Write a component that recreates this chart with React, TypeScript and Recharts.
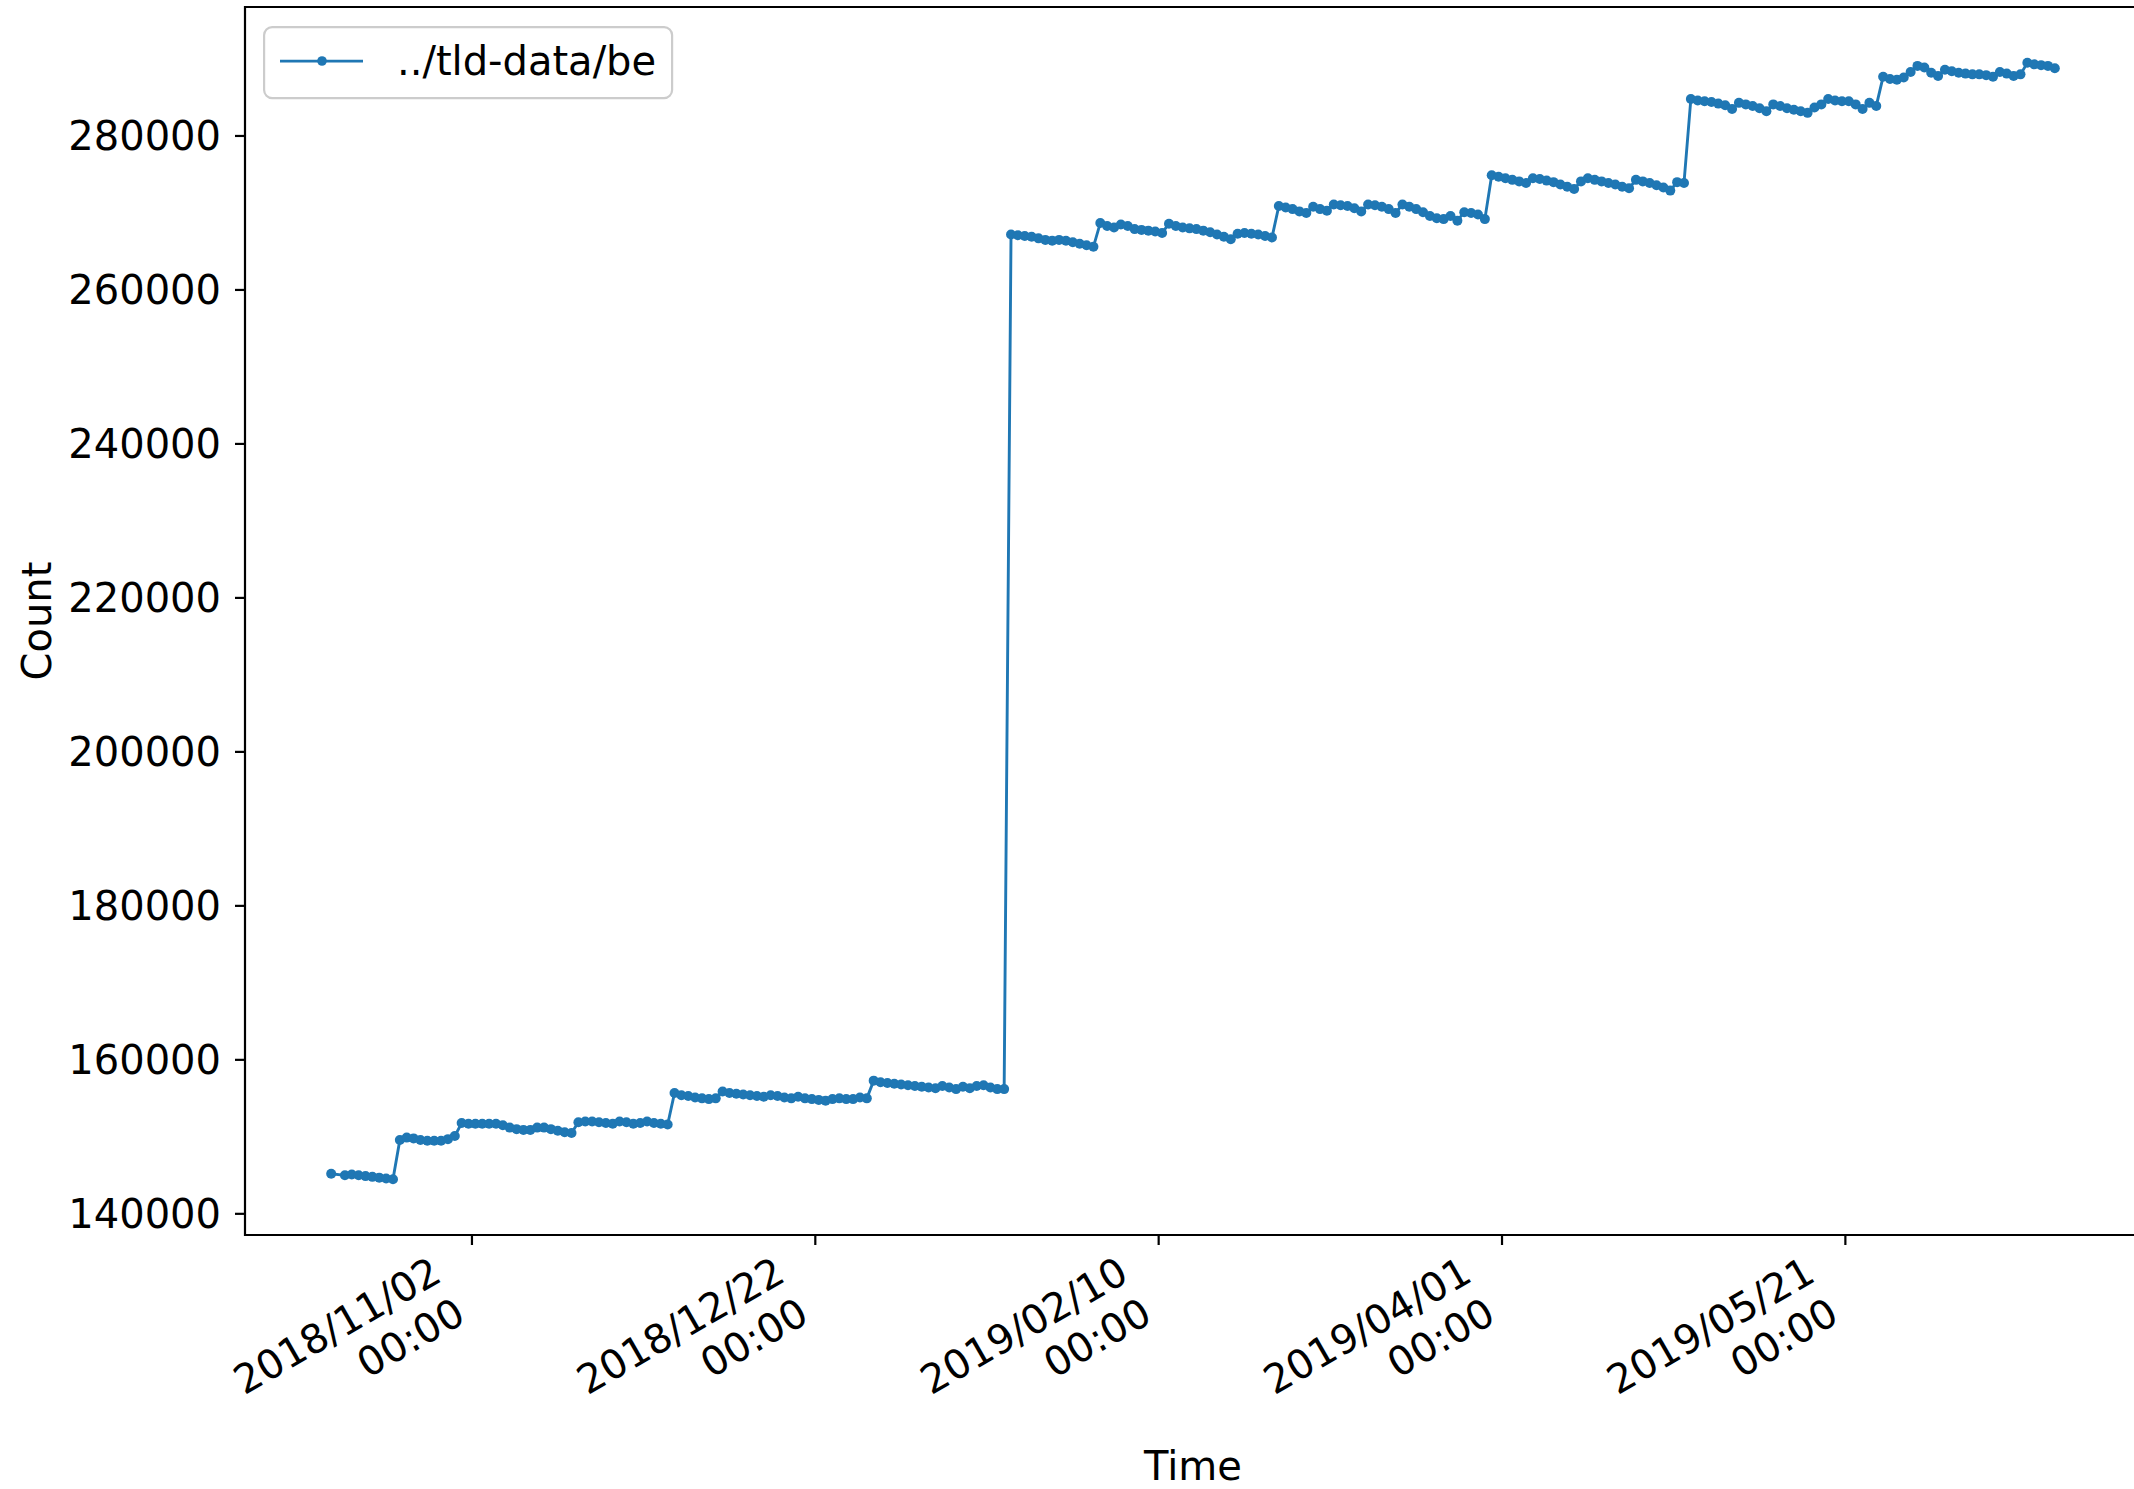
import { Legend, Line, LineChart, ReferenceArea, XAxis, YAxis } from 'recharts'

const BLUE = '#1f77b4'
const FONT = '"DejaVu Sans", sans-serif'
const FONT_SIZE = 40

const seriesName = '../tld-data/be'
// one sample per day, starting at this instant; null = no sample that day
const firstSample = '2018-10-12T12:00:00Z'

const counts: (number | null)[] = [
  // Oct 12 - Oct 21
  145200, null, 145000, 145100, 145000, 144900, 144800, 144700, 144600, 144500,
  // Oct 22 - Oct 30
  149600, 149900, 149800, 149600, 149500, 149500, 149500, 149700, 150100,
  // Oct 31 - Nov 16
  151800, 151700, 151700, 151700, 151700, 151700, 151500, 151200, 151000, 150900,
  150900, 151200, 151200, 151000, 150800, 150600, 150500,
  // Nov 17 - Nov 30
  151900, 152000, 152000, 151900, 151800, 151700, 152000, 151900, 151700, 151800,
  152000, 151800, 151700, 151600,
  // Dec 01 - Dec 07
  155700, 155400, 155300, 155100, 155000, 154900, 155000,
  // Dec 08 - Dec 29
  155900, 155700, 155600, 155500, 155400, 155300, 155200, 155400, 155300, 155100,
  155000, 155200, 155000, 154900, 154800, 154700, 154900, 155000, 154900, 154900,
  155100, 155000,
  // Dec 30 - Jan 18
  157300, 157100, 157000, 156900, 156800, 156700, 156600, 156500, 156400, 156300,
  156600, 156400, 156200, 156500, 156300, 156600, 156700, 156400, 156200, 156200,
  // Jan 19 - Jan 31
  267200, 267100, 267000, 266900, 266700, 266500, 266400, 266500, 266400, 266200,
  266000, 265800, 265600,
  // Feb 01 - Feb 10
  268700, 268300, 268100, 268500, 268300, 267900, 267800, 267700, 267600, 267400,
  // Feb 11 - Feb 20
  268600, 268300, 268100, 268000, 267900, 267700, 267500, 267200, 266900, 266600,
  // Feb 21 - Feb 26
  267300, 267400, 267300, 267200, 267000, 266800,
  // Feb 27 - Mar 29
  270900, 270700, 270500, 270200, 270000, 270800, 270500, 270300, 271100, 271000,
  270900, 270600, 270200, 271100, 271000, 270800, 270500, 270000, 271100, 270800,
  270500, 270100, 269600, 269300, 269200, 269600, 269000, 270100, 270000, 269800,
  269200,
  // Mar 30 - Apr 27
  274900, 274700, 274500, 274300, 274100, 273900, 274500, 274400, 274200, 274000,
  273700, 273400, 273100, 274100, 274500, 274300, 274100, 273900, 273700, 273400,
  273200, 274300, 274100, 273900, 273600, 273300, 272900, 274000, 273900,
  // Apr 28 - May 25
  284800, 284600, 284500, 284400, 284200, 284000, 283500, 284300, 284100, 283900,
  283600, 283200, 284100, 283900, 283600, 283400, 283200, 283000, 283700, 284100,
  284800, 284600, 284500, 284500, 284100, 283500, 284300, 283900,
  // May 26 - Jun 20
  287700, 287400, 287300, 287600, 288300, 289100, 288900, 288200, 287800, 288600,
  288400, 288200, 288100, 288000, 288000, 287900, 287700, 288300, 288100, 287800,
  288000, 289500, 289300, 289200, 289100, 288800,
]

const tickDates = ['2018/11/02', '2018/12/22', '2019/02/10', '2019/04/01', '2019/05/21']
const tickTime = '00:00'
const countTicks = [140000, 160000, 180000, 200000, 220000, 240000, 260000, 280000]

const DAY = 86400000
const start = Date.parse(firstSample)
const data = counts.map((count, i) => ({ time: start + i * DAY, count }))
const tickTimes = tickDates.map((d) => Date.parse(d.replace(/\//g, '-') + 'T00:00:00Z'))

// matplotlib-style 5% autoscale margins
const sampled = data.filter((d) => d.count != null)
const tFirst = sampled[0].time
const tLast = sampled[sampled.length - 1].time
const tPad = (tLast - tFirst) * 0.05
const xMin = tFirst - tPad
const xMax = tLast + tPad
const values = sampled.map((d) => d.count as number)
const vLow = Math.min(...values)
const vHigh = Math.max(...values)
const vPad = (vHigh - vLow) * 0.05
const yMin = vLow - vPad
const yMax = vHigh + vPad

// plot box
const PLOT_LEFT = 245
const PLOT_TOP = 7
const CHART_W = 2150
const CHART_H = 1489
const PLOT_RIGHT = 2141
const PLOT_BOTTOM = 1235

function DateTick({ x, y, payload }: any) {
  const i = tickTimes.indexOf(payload.value)
  const label = i >= 0 ? tickDates[i] : ''
  return (
    <g transform={`translate(${x - 4.5},${y + 76}) rotate(-30)`}>
      <text textAnchor="end" fontSize={FONT_SIZE} fontFamily={FONT} fill="#000">
        <tspan x={0} dy="-1.18em">{label}</tspan>
        <tspan x={0} dy="1.18em">{tickTime}</tspan>
      </text>
    </g>
  )
}

function XTitle() {
  return (
    <text
      x={(PLOT_LEFT + PLOT_RIGHT) / 2}
      y={1480}
      textAnchor="middle"
      fontSize={FONT_SIZE}
      fontFamily={FONT}
      fill="#000"
    >
      Time
    </text>
  )
}

function YTitle() {
  const cx = 37
  const cy = (PLOT_TOP + PLOT_BOTTOM) / 2
  return (
    <text
      x={cx}
      y={cy}
      transform={`rotate(-90 ${cx} ${cy})`}
      textAnchor="middle"
      dominantBaseline="central"
      fontSize={FONT_SIZE}
      fontFamily={FONT}
      fill="#000"
    >
      Count
    </text>
  )
}

function LegendBox({ payload }: any) {
  const name = payload?.[0]?.value ?? seriesName
  return (
    <svg width={411} height={74} style={{ display: 'block' }}>
      <rect
        x={1.1}
        y={1.1}
        width={408}
        height={71}
        rx={8}
        fill="#fff"
        fillOpacity={0.8}
        stroke="#cccccc"
        strokeWidth={2.2}
      />
      <line x1={17} x2={100} y1={35} y2={35} stroke={BLUE} strokeWidth={2.75} />
      <circle cx={59} cy={35} r={4.8} fill={BLUE} />
      <text x={134} y={49} fontSize={FONT_SIZE} fontFamily={FONT} fill="#000">
        {name}
      </text>
    </svg>
  )
}

export default function App() {
  return (
    <div
      style={{
        position: 'absolute',
        left: 0,
        top: 0,
        width: 2134,
        height: 1489,
        overflow: 'hidden',
        background: '#fff',
        fontFamily: FONT,
      }}
    >
      <LineChart
        width={CHART_W}
        height={CHART_H}
        data={data}
        margin={{ top: PLOT_TOP, right: CHART_W - PLOT_RIGHT, bottom: 0, left: 0 }}
      >
        <XAxis
          type="number"
          dataKey="time"
          domain={[xMin, xMax]}
          ticks={tickTimes}
          interval={0}
          height={CHART_H - PLOT_BOTTOM}
          tick={<DateTick />}
          tickSize={10}
          tickMargin={0}
          axisLine={false}
          tickLine={{ stroke: '#000', strokeWidth: 2.2 }}
          label={<XTitle />}
        />
        <YAxis
          type="number"
          domain={[yMin, yMax]}
          ticks={countTicks}
          interval={0}
          width={PLOT_LEFT}
          tickSize={10}
          tickMargin={14}
          axisLine={false}
          tickLine={{ stroke: '#000', strokeWidth: 2.2 }}
          tick={{ fill: '#000', fontSize: FONT_SIZE, fontFamily: FONT }}
          tickFormatter={(v) => String(v)}
          label={<YTitle />}
        />
        <ReferenceArea
          x1={xMin}
          x2={xMax}
          y1={yMin}
          y2={yMax}
          fill="none"
          stroke="#000"
          strokeWidth={2.2}
        />
        <Line
          type="linear"
          dataKey="count"
          name={seriesName}
          stroke={BLUE}
          strokeWidth={2.9}
          connectNulls
          dot={{ r: 5, fill: BLUE, stroke: 'none' }}
          activeDot={false}
          isAnimationActive={false}
        />
        <Legend
          layout="vertical"
          align="center"
          verticalAlign="middle"
          wrapperStyle={{ left: 263, top: 26, width: 411, height: 74 }}
          content={(props: any) => <LegendBox {...props} />}
        />
      </LineChart>
    </div>
  )
}
